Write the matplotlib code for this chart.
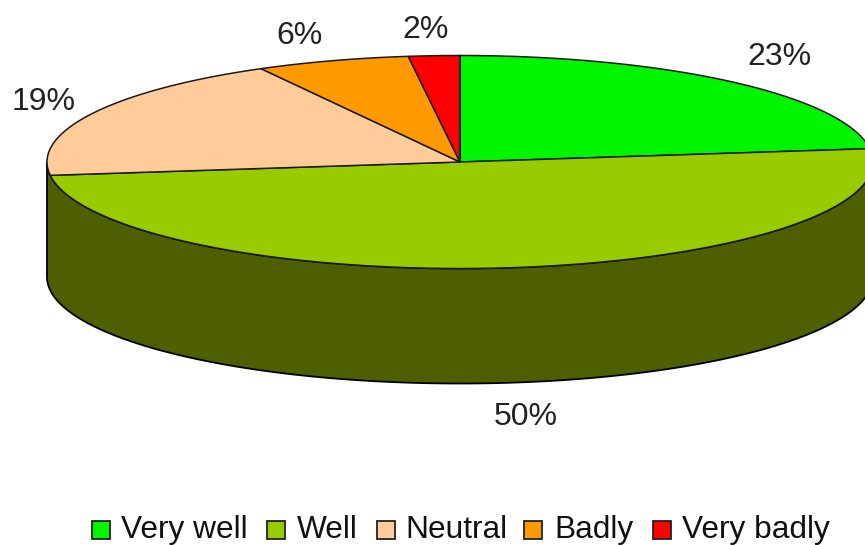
import numpy as np
import matplotlib
matplotlib.use("Agg")
import matplotlib.pyplot as plt
from matplotlib.patches import Rectangle

plt.rcParams['font.family'] = ['Liberation Sans', 'DejaVu Sans']

# chart data
categories = ['Very well', 'Well', 'Neutral', 'Badly', 'Very badly']
shares = [23, 50, 19, 6, 2]
colors = ['#00F500', '#99CC00', '#FFCC99', '#FF9900', '#FF0000']
side_color = '#4D5F00'

# pie geometry in pixels
cx, cy = 460, 162
rx, ry = 413, 106.5
depth = 115

# label positions (center x, baseline y), same order as shares
label_xy = [(779, 65), (526, 425), (44, 110), (300, 44), (426, 38)]

# legend layout: swatch left edge and text left edge
swatch_x = [92, 267, 377, 524, 653]
text_x = [121, 297, 405, 554, 682]


def rim(a0, a1, n=200):
    # angles are clockwise from 12 o'clock
    t = np.radians(np.linspace(a0, a1, n))
    return cx + rx * np.sin(t), cy - ry * np.cos(t)


fig = plt.figure(figsize=(8.65, 5.45), dpi=100)
ax = fig.add_axes([0, 0, 1, 1])
ax.set_xlim(0, 865)
ax.set_ylim(545, 0)
ax.axis('off')

# side of the cylinder, front half of the rim pushed down by depth
x, y = rim(90, 270)
side_x = np.concatenate([x, x[::-1]])
side_y = np.concatenate([y, y[::-1] + depth])
ax.fill(side_x, side_y, facecolor=side_color, edgecolor='black', lw=1.3)

# top slices
edges = np.cumsum([0] + shares) * 3.6
for i in range(len(shares)):
    x, y = rim(edges[i], edges[i + 1])
    ax.fill(np.r_[cx, x], np.r_[cy, y], facecolor=colors[i],
            edgecolor='#1a1a1a', lw=1.1, joinstyle='round')

# percent labels
for v, (lx, ly) in zip(shares, label_xy):
    ax.text(lx, ly, f'{v}%', fontsize=23, color='#222222', ha='center', va='baseline')

# legend
for name, c, sx, tx in zip(categories, colors, swatch_x, text_x):
    ax.add_patch(Rectangle((sx, 521), 18, 18, facecolor=c, edgecolor='#222222', lw=1.3))
    ax.text(tx, 538, name, fontsize=22.8, color='#111111', ha='left', va='baseline')

fig.savefig('out.png', dpi=100)
